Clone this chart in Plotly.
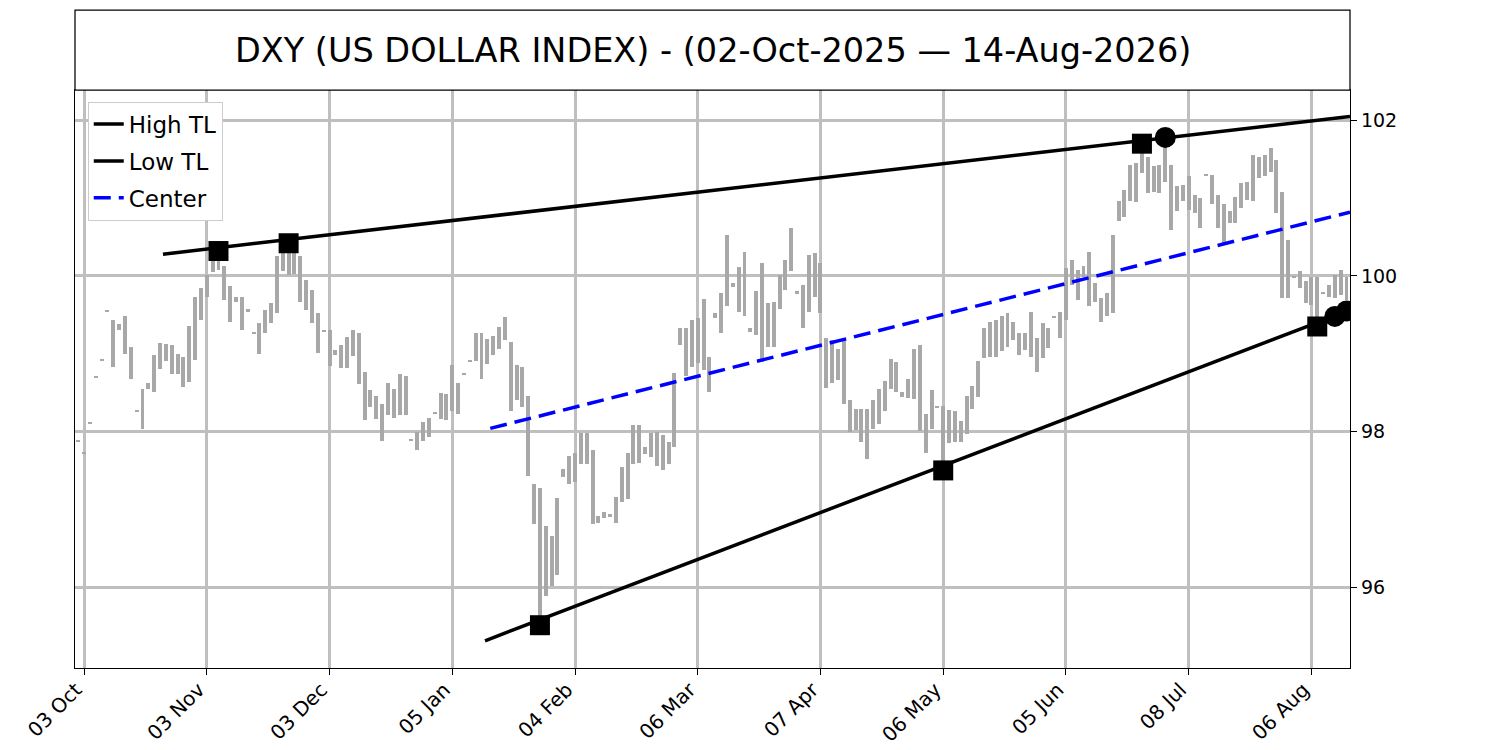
import plotly.graph_objects as go

# daily high / low of DXY, one entry per trading day (02-Oct-2025 .. 14-Aug-2026)
bar_high = [
    97.89, 97.74, 98.12, 98.72, 98.93, 99.56, 99.43, 99.38, 99.48, 99.09,
    98.28, 98.55, 98.62, 98.98, 99.14, 99.13, 99.11, 99.00, 98.96, 99.35,
    99.73, 99.84, 100.01, 100.25, 100.32, 100.13, 99.87, 99.73, 99.73, 99.58,
    99.28, 99.40, 99.56, 99.65, 100.25, 100.30, 100.42, 100.30, 100.25, 99.95,
    99.82, 99.52, 99.30, 99.30, 99.05, 99.11, 99.22, 99.31, 99.26, 98.77,
    98.53, 98.46, 98.35, 98.63, 98.55, 98.74, 98.72, 97.91, 97.99, 98.12,
    98.18, 98.25, 98.49, 98.48, 98.85, 98.63, 98.75, 98.92, 99.26, 99.26,
    99.19, 99.23, 99.34, 99.47, 99.15, 98.85, 98.83, 98.46, 97.32, 97.28,
    96.79, 96.66, 97.15, 97.52, 97.69, 97.73, 97.98, 97.98, 97.76, 96.92,
    96.96, 96.94, 97.16, 97.54, 97.73, 98.08, 98.08, 97.80, 97.98, 97.99,
    97.95, 97.86, 98.75, 99.33, 99.33, 99.43, 99.46, 99.70, 98.96, 99.52,
    99.78, 100.53, 99.91, 100.12, 100.31, 99.33, 99.80, 100.16, 99.65, 99.67,
    100.01, 100.21, 100.61, 99.80, 99.88, 100.27, 100.29, 100.16, 99.20, 99.17,
    99.06, 99.17, 98.41, 98.29, 98.29, 98.29, 98.40, 98.55, 98.65, 98.93,
    98.89, 98.51, 98.68, 99.06, 99.11, 98.23, 98.53, 98.33, 98.33, 98.28,
    98.27, 98.14, 98.46, 98.59, 98.91, 99.33, 99.41, 99.43, 99.48, 99.52,
    99.41, 99.26, 99.26, 99.54, 99.20, 99.39, 99.33, 99.48, 99.54, 100.10,
    100.21, 100.08, 100.13, 100.31, 99.91, 99.71, 99.78, 100.52, 100.96, 101.10,
    101.43, 101.45, 101.70, 101.53, 101.41, 101.43, 101.70, 101.43, 101.15, 101.17,
    101.28, 101.04, 101.00, 101.31, 101.30, 101.04, 100.93, 100.83, 101.02, 101.19,
    101.21, 101.56, 101.53, 101.56, 101.64, 101.49, 101.08, 100.46, 100.00, 100.06,
    99.93, 99.99, 99.99, 99.79, 99.88, 100.01, 100.08, 99.99,
]
bar_low = [
    97.86, 97.71, 98.10, 98.70, 98.91, 99.54, 98.83, 99.30, 99.00, 98.67,
    98.26, 98.03, 98.55, 98.51, 98.80, 98.91, 98.74, 98.74, 98.57, 98.64,
    98.92, 99.43, 99.73, 100.05, 100.08, 99.69, 99.41, 99.67, 99.30, 99.53,
    99.26, 99.00, 99.26, 99.40, 99.52, 100.06, 100.01, 100.03, 99.67, 99.56,
    99.39, 99.01, 99.28, 98.84, 98.99, 98.82, 98.82, 98.97, 98.61, 98.15,
    98.31, 98.16, 97.88, 98.21, 98.18, 98.21, 98.21, 97.89, 97.76, 97.88,
    97.93, 98.23, 98.16, 98.15, 98.27, 98.23, 98.73, 98.90, 98.91, 98.68,
    98.87, 98.98, 99.06, 99.17, 98.27, 98.40, 98.31, 97.43, 96.81, 95.55,
    95.88, 96.01, 96.16, 97.41, 97.32, 97.35, 97.58, 97.58, 96.81, 96.83,
    96.89, 96.90, 96.82, 97.09, 97.13, 97.58, 97.60, 97.71, 97.67, 97.56,
    97.50, 97.58, 97.80, 99.11, 98.71, 98.83, 98.88, 98.79, 98.51, 99.46,
    99.26, 99.61, 99.86, 99.54, 99.48, 99.28, 99.24, 98.90, 99.09, 99.09,
    99.57, 99.82, 100.06, 99.78, 99.33, 99.54, 99.73, 99.52, 98.56, 98.63,
    98.66, 98.36, 97.99, 98.02, 97.86, 97.65, 98.03, 98.10, 98.27, 98.55,
    98.51, 98.44, 98.43, 98.42, 98.01, 97.73, 98.03, 98.30, 97.55, 97.85,
    97.86, 97.86, 97.97, 98.29, 98.44, 98.94, 98.96, 98.96, 99.03, 99.09,
    99.18, 98.98, 99.05, 98.96, 98.77, 98.94, 99.07, 99.46, 99.20, 99.43,
    99.88, 99.69, 99.99, 99.61, 99.67, 99.41, 99.48, 99.52, 100.71, 100.76,
    100.96, 100.95, 101.32, 101.06, 101.08, 101.06, 101.21, 100.59, 100.83, 100.96,
    100.85, 100.81, 100.61, 101.29, 100.93, 100.61, 100.42, 100.68, 100.68, 100.87,
    100.98, 100.96, 101.26, 101.28, 101.34, 100.81, 99.71, 99.71, 99.98, 99.84,
    99.65, 99.63, 99.38, 99.77, 99.73, 99.71, 99.76, 99.69,
]

tick_pos = [1, 22, 43, 64, 85, 106, 127, 148, 169, 190, 211]
tick_labels = ["03 Oct", "03 Nov", "03 Dec", "05 Jan", "04 Feb", "06 Mar",
               "07 Apr", "06 May", "05 Jun", "08 Jul", "06 Aug"]

# trend lines (bar index, price)
high_tl_x = [14.5, 217.6]
high_tl_y = [100.28, 102.05]
low_tl_x = [69.6, 217.6]
low_tl_y = [95.31, 99.56]
center_x = [70.5, 217.6]
center_y = [98.04, 100.82]

high_piv_x = [24, 36, 182]
high_piv_y = [100.32, 100.42, 101.70]
high_touch_x = [186]
high_touch_y = [101.78]
low_piv_x = [79, 148, 212]
low_piv_y = [95.51, 97.50, 99.35]
low_touch_x = [215, 217]
low_touch_y = [99.48, 99.55]

FONT = "DejaVu Sans"
idx = list(range(len(bar_high)))

fig = go.Figure()
fig.add_trace(go.Bar(
    x=idx, base=bar_low, y=[h - l for h, l in zip(bar_high, bar_low)],
    width=0.68, marker=dict(color="#a8a8a8", line=dict(width=0)),
    showlegend=False, hoverinfo="skip"))

fig.add_trace(go.Scatter(x=high_tl_x, y=high_tl_y, mode="lines", name="High TL",
                         legendgroup="a", line=dict(color="black", width=3.5)))
fig.add_trace(go.Scatter(x=low_tl_x, y=low_tl_y, mode="lines", name="Low TL",
                         legendgroup="b", line=dict(color="black", width=3.5)))
fig.add_trace(go.Scatter(x=center_x, y=center_y, mode="lines", name="Center",
                         legendgroup="c",
                         line=dict(color="blue", width=3.5, dash="17px,8px")))

for xs, ys, sym in [(high_piv_x, high_piv_y, "square"), (low_piv_x, low_piv_y, "square"),
                    (high_touch_x, high_touch_y, "circle"), (low_touch_x, low_touch_y, "circle")]:
    fig.add_trace(go.Scatter(x=xs, y=ys, mode="markers", showlegend=False,
                             marker=dict(symbol=sym, size=21 if sym == "circle" else 20,
                                         color="black", line=dict(width=0))))

ph = 578  # plot height in px
fig.add_shape(type="rect", xref="paper", yref="paper", x0=0, x1=1, y0=1, y1=1 + 80 / ph,
              line=dict(color="black", width=1.25), fillcolor="white", layer="above")
fig.add_annotation(text="DXY (US DOLLAR INDEX) - (02-Oct-2025 \u2014 14-Aug-2026)",
                   xref="paper", yref="paper", x=0.5, y=1 + 40 / ph,
                   xanchor="center", yanchor="middle", showarrow=False,
                   font=dict(family=FONT, size=33.5, color="black"))

# page body adds 8px offset, margins compensate
fig.update_layout(
    width=1500, height=750,
    margin=dict(l=67, r=158, t=82, b=90),
    paper_bgcolor="white", plot_bgcolor="white",
    font=dict(family=FONT, size=19, color="black"),
    bargap=0,
    legend=dict(x=0.01, y=0.98, xanchor="left", yanchor="top",
                bgcolor="white", bordercolor="#cccccc", borderwidth=1,
                font=dict(family=FONT, size=23), itemwidth=30,
                traceorder="grouped", tracegroupgap=4),
    xaxis=dict(range=[-0.55, 217.6], tickmode="array", tickvals=tick_pos,
               ticktext=tick_labels, tickangle=-45, ticks="outside", ticklen=6,
               tickcolor="black", tickfont=dict(size=20), ticklabelshift=-8,
               ticklabelstandoff=-5, showline=True,
               linecolor="black", linewidth=1.25, mirror=True, showgrid=True,
               gridcolor="#bfbfbf", gridwidth=3, zeroline=False, automargin=False),
    yaxis=dict(range=[94.96, 102.39], side="right", tickvals=[96, 98, 100, 102],
               ticks="outside", ticklen=6, tickcolor="black", showline=True,
               linecolor="black", linewidth=1.25, mirror=True, showgrid=True,
               gridcolor="#bfbfbf", gridwidth=3, zeroline=False, automargin=False),
)

fig.write_html("out.html")
